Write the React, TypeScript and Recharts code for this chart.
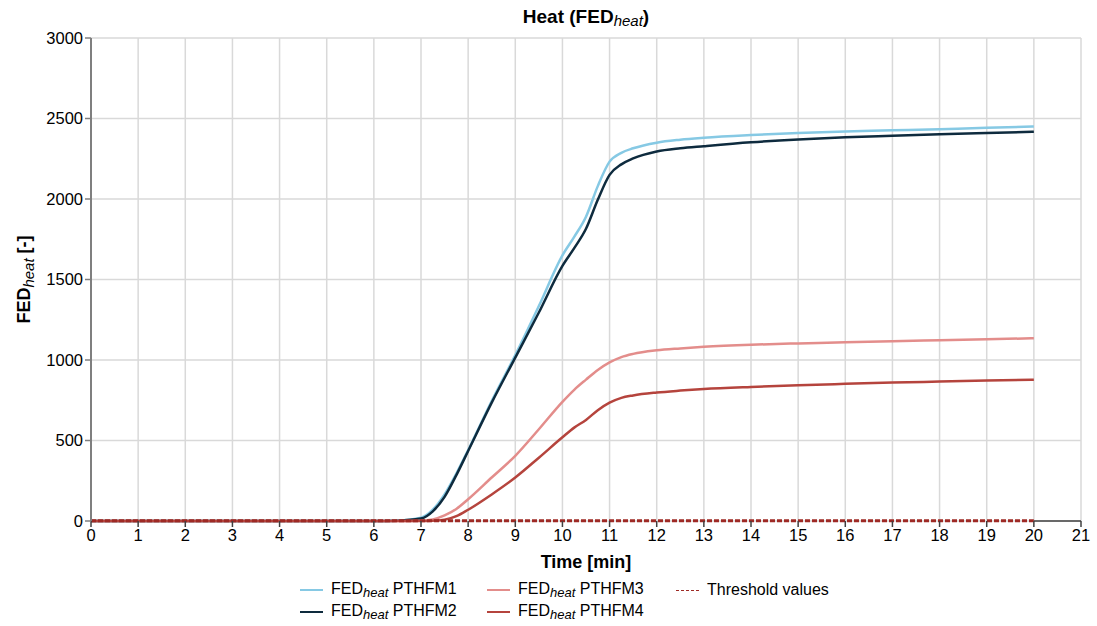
import { CartesianGrid, Label, Line, LineChart, ReferenceLine, XAxis, YAxis } from "recharts";

// time in minutes
const time = [0, 1, 2, 3, 4, 5, 6, 6.5, 7, 7.25, 7.5, 7.75, 8, 8.5, 9, 9.5, 10, 10.25, 10.5, 10.75, 11, 11.25, 11.5, 12, 12.5, 13, 14, 15, 16, 17, 18, 19, 20];
const pthfm1 = [0, 0, 0, 0, 0, 0, 0, 2, 20, 70, 165, 295, 440, 745, 1030, 1335, 1650, 1765, 1890, 2080, 2232, 2287, 2315, 2350, 2368, 2380, 2397, 2410, 2420, 2427, 2434, 2442, 2450];
const pthfm2 = [0, 0, 0, 0, 0, 0, 0, 2, 15, 60, 150, 285, 435, 735, 1015, 1295, 1585, 1695, 1815, 1995, 2150, 2215, 2252, 2295, 2315, 2328, 2352, 2370, 2383, 2393, 2402, 2410, 2418];
const pthfm3 = [0, 0, 0, 0, 0, 0, 0, 0, 2, 10, 35, 75, 135, 270, 405, 570, 740, 815, 878, 938, 985, 1018, 1038, 1060, 1072, 1082, 1095, 1103, 1110, 1117, 1123, 1129, 1135];
const pthfm4 = [0, 0, 0, 0, 0, 0, 0, 0, 0, 2, 8, 30, 70, 165, 270, 393, 520, 580, 628, 688, 735, 765, 780, 798, 810, 820, 833, 843, 852, 860, 866, 872, 878];
const threshold = time.map(() => 1);

const xTicks = [0, 1, 2, 3, 4, 5, 6, 7, 8, 9, 10, 11, 12, 13, 14, 15, 16, 17, 18, 19, 20, 21];
const yTicks = [0, 500, 1000, 1500, 2000, 2500, 3000];

const data = time.map((t, i) => ({
  t,
  p1: pthfm1[i],
  p2: pthfm2[i],
  p3: pthfm3[i],
  p4: pthfm4[i],
  thr: threshold[i],
}));

const FONT = "'Liberation Sans', Arial, sans-serif";
const C1 = "#86c9e4";
const C2 = "#0e2b3e";
const C3 = "#e38d8b";
const C4 = "#b5443d";
const CT = "#9e2a25";

const legendItems = [
  { name: "PTHFM1", color: C1, x: 300, y: 590 },
  { name: "PTHFM2", color: C2, x: 300, y: 612 },
  { name: "PTHFM3", color: C3, x: 487, y: 590 },
  { name: "PTHFM4", color: C4, x: 487, y: 612 },
];

function YLabel(props: any) {
  const vb = props.viewBox || { y: 38, height: 483 };
  const cx = 30;
  const cy = vb.y + vb.height / 2;
  return (
    <text transform={`translate(${cx},${cy}) rotate(-90)`} textAnchor="middle" fontFamily={FONT} fontSize={18} fontWeight="bold" fill="#000">
      FED
      <tspan fontStyle="italic" fontWeight="normal" fontSize={15} dy={4}>heat</tspan>
      <tspan dy={-4}> [-]</tspan>
    </text>
  );
}

export default function App() {
  return (
    <div style={{ position: "relative", width: 1097, height: 626, background: "#fff", fontFamily: FONT }}>
      <style>{`body{margin:0}`}</style>
      <div style={{ position: "absolute", left: 91, width: 990, top: 6, textAlign: "center", fontSize: 19, fontWeight: "bold" }}>
        Heat (FED<sub style={{ fontStyle: "italic", fontWeight: "normal", fontSize: 15, verticalAlign: "-3px" }}>heat</sub>)
      </div>
      <LineChart width={1097} height={626} data={data} margin={{ top: 38, right: 16, bottom: 50, left: 0 }}>
        <CartesianGrid stroke="#d9d9d9" strokeWidth={1.5} />
        <XAxis
          dataKey="t"
          type="number"
          domain={[0, 21]}
          ticks={xTicks}
          interval={0}
          height={55}
          axisLine={false}
          tickLine={{ stroke: "#404040", strokeWidth: 1.5 }}
          tickSize={6}
          tick={{ fill: "#000", fontSize: 16.5, fontFamily: FONT }}
        >
          <Label value="Time [min]" position="insideBottom" offset={8} style={{ fontSize: 18, fontWeight: "bold", fill: "#000", fontFamily: FONT }} />
        </XAxis>
        <YAxis
          type="number"
          domain={[0, 3000]}
          ticks={yTicks}
          interval={0}
          width={91}
          axisLine={{ stroke: "#7f7f7f", strokeWidth: 2 }}
          tickLine={{ stroke: "#7f7f7f", strokeWidth: 1.5 }}
          tickSize={6}
          tick={{ fill: "#000", fontSize: 16.5, fontFamily: FONT }}
        >
          <Label content={<YLabel />} />
        </YAxis>
        <ReferenceLine segment={[{ x: 20, y: 0 }, { x: 21, y: 0 }]} stroke="#404040" strokeWidth={1.5} />
        <Line dataKey="p1" type="monotone" stroke={C1} strokeWidth={2.5} dot={false} isAnimationActive={false} />
        <Line dataKey="p2" type="monotone" stroke={C2} strokeWidth={2.5} dot={false} isAnimationActive={false} />
        <Line dataKey="p3" type="monotone" stroke={C3} strokeWidth={2.5} dot={false} isAnimationActive={false} />
        <Line dataKey="p4" type="monotone" stroke={C4} strokeWidth={2.5} dot={false} isAnimationActive={false} />
        <Line dataKey="thr" stroke={CT} strokeWidth={3} strokeDasharray="5 2" dot={false} isAnimationActive={false} />
      </LineChart>
      {legendItems.map((it) => (
        <div key={it.name} style={{ position: "absolute", left: it.x, top: it.y - 10, height: 20, display: "flex", alignItems: "center", fontSize: 16 }}>
          <span style={{ display: "inline-block", width: 23, height: 0, borderTop: `2.5px solid ${it.color}`, marginRight: 8 }} />
          <span>
            FED<sub style={{ fontStyle: "italic", fontSize: 13, verticalAlign: "-3px" }}>heat</sub> {it.name}
          </span>
        </div>
      ))}
      <div style={{ position: "absolute", left: 676, top: 580, height: 20, display: "flex", alignItems: "center", fontSize: 16 }}>
        <span style={{ display: "inline-block", width: 23, height: 0, borderTop: `1.5px dashed ${CT}`, marginRight: 8 }} />
        <span>Threshold values</span>
      </div>
    </div>
  );
}
